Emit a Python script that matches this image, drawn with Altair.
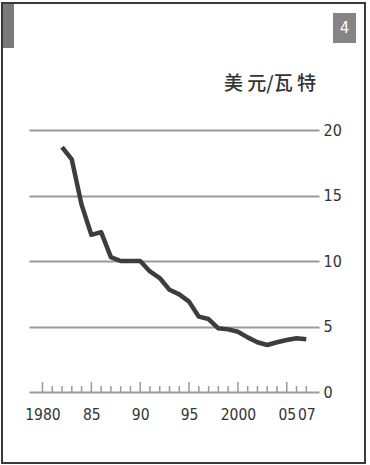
import altair as alt
import pandas as pd

# Data: solar PV module price, US$ per watt
years = [1982, 1983, 1984, 1985, 1986, 1987, 1988, 1989, 1990, 1991, 1992,
         1993, 1994, 1995, 1996, 1997, 1998, 1999, 2000, 2001, 2002, 2003,
         2004, 2005, 2006, 2007]
price = [18.7, 17.75, 14.3, 12.0, 12.2, 10.3, 10.0, 10.0, 10.0, 9.2, 8.7,
         7.8, 7.45, 6.9, 5.75, 5.57, 4.86, 4.78, 4.6, 4.17, 3.8, 3.59,
         3.8, 3.97, 4.1, 4.02]

tick_years = [1980, 1981, 1982, 1983, 1984, 1985, 1986, 1987, 1988, 1989,
              1990, 1991, 1992, 1993, 1994, 1995, 1996, 1997, 1998, 1999,
              2000, 2001, 2002, 2003, 2004, 2005, 2006, 2007]
tick_top = [0.76 if y % 5 == 0 else 0.46 for y in tick_years]

x_label_values = [1980, 1985, 1990, 1995, 2000, 2005, 2007]
y_label_values = [0, 5, 10, 15, 20]

unit_label = "美 元/瓦 特"
panel_number = "4"

FONT = "Liberation Sans Narrow, DejaVu Sans Condensed, sans-serif"
CJK = "Noto Sans CJK SC"

line_df = pd.DataFrame({"year": years, "price": price})
tick_df = pd.DataFrame({"year": tick_years, "base": [0] * len(tick_years), "top": tick_top})
one = pd.DataFrame({"k": [0]})

xscale = alt.Scale(domain=[1978.62, 2008.3], nice=False, zero=False)
yscale = alt.Scale(domain=[0, 20], nice=False, zero=True)

x_axis = alt.Axis(
    values=x_label_values, format="d",
    labelExpr="datum.value == 1980 || datum.value == 2000 ? datum.label : substring(datum.label, 2)",
    grid=False, domain=False, ticks=False, tickSize=0, labelPadding=15,
    labelFont=FONT, labelFontSize=15.5, labelColor="#333333", title=None,
    labelFlush=False, labelOverlap=False,
)
y_axis = alt.Axis(
    orient="right", values=y_label_values, grid=True, gridColor="#9a9a9a",
    gridWidth=2, domain=False, ticks=False, tickSize=0, labelPadding=4,
    labelFont=FONT, labelFontSize=16, labelColor="#333333", title=None,
    labelFlush=False, labelOverlap=False,
)

ticks = alt.Chart(tick_df).mark_rule(color="#9a9a9a", strokeWidth=1.5).encode(
    x=alt.X("year:Q", scale=xscale, axis=x_axis),
    y=alt.Y("base:Q", scale=yscale, axis=y_axis),
    y2="top:Q",
)

line = alt.Chart(line_df).mark_line(
    color="#3d3d3d", strokeWidth=4.5, strokeJoin="round"
).encode(
    x=alt.X("year:Q", scale=xscale, axis=x_axis),
    y=alt.Y("price:Q", scale=yscale, axis=y_axis),
)

frame = alt.Chart(one).mark_rect(
    fill="white", fillOpacity=0, stroke="#3a3a3a", strokeWidth=2
).encode(
    x=alt.value(-27), x2=alt.value(336), y=alt.value(-127), y2=alt.value(333)
)

tab = alt.Chart(one).mark_rect(fill="#7a7a7a").encode(
    x=alt.value(-26), x2=alt.value(-15), y=alt.value(-126), y2=alt.value(-82)
)

numbox = alt.Chart(one).mark_rect(fill="#858585").encode(
    x=alt.value(304), x2=alt.value(327), y=alt.value(-117), y2=alt.value(-87)
)

numtext = alt.Chart(one).mark_text(
    text=panel_number, color="white", font=FONT, fontSize=16,
    align="center", baseline="middle"
).encode(x=alt.value(315.5), y=alt.value(-102))

unit = alt.Chart(one).mark_text(
    text=unit_label, color="#333333", font=CJK, fontSize=19, fontWeight=500,
    align="right", baseline="alphabetic"
).encode(x=alt.value(287), y=alt.value(-40))

chart = alt.layer(ticks, line, frame, tab, numbox, numtext, unit).properties(
    width=290, height=262,
    autosize=alt.AutoSizeParams(type="none"),
    padding={"left": 29, "top": 130, "right": 51, "bottom": 73},
    background="white",
).configure_view(strokeWidth=0)

chart.save("out.html", embed_options={"renderer": "svg", "actions": False})
